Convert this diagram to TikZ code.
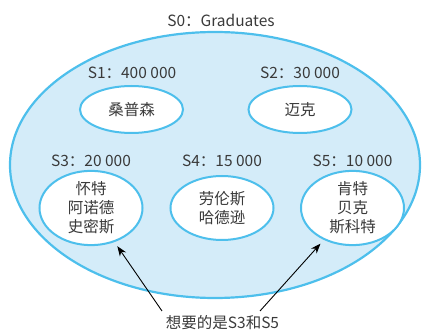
\documentclass[tikz,border=0pt]{standalone}
\usepackage{fontspec}
\setmainfont{Noto Sans CJK SC}
\usetikzlibrary{shapes.geometric,arrows.meta}
\definecolor{ebg}{HTML}{D4ECF9}
\definecolor{eline}{HTML}{4DBFEC}
\definecolor{txt}{HTML}{3A3A3A}
\tikzset{
  x=1pt,y=-1pt,
  bigell/.style={ellipse,draw=eline,fill=ebg,line width=2.2pt,minimum width=410pt,minimum height=266pt,inner sep=0pt},
  smallell/.style={ellipse,draw=eline,fill=white,line width=2pt,minimum width=103pt,inner sep=0pt,text=txt,font=\fontsize{15.5}{19}\selectfont,align=center},
  lbl/.style={text=txt,font=\fontsize{15.5}{17}\selectfont,inner sep=0pt},
  pointer/.style={-{Stealth[length=10pt,width=7.5pt]},line width=0.9pt,black,shorten >=5pt}
}
\begin{document}
\begin{tikzpicture}
\useasboundingbox (0,0) rectangle (429,331);
\node[bigell] (s0) at (215,165) {};
\node[lbl] (l0) at (221,20) {S0：Graduates};
\node[lbl] (l1) at (132,73) {S1：400 000};
\node[lbl] (l2) at (300,73) {S2：30 000};
\node[lbl] (l3) at (91,161) {S3：20 000};
\node[lbl] (l4) at (222,161) {S4：15 000};
\node[lbl] (l5) at (352.5,161) {S5：10 000};
\node[smallell,minimum height=47pt] (s1) at (131.5,109.5) {桑普森};
\node[smallell,minimum height=47pt] (s2) at (300,109.5) {迈克};
\node[smallell,minimum height=64pt] (s3) at (91,208) {怀特\\阿诺德\\史密斯};
\node[smallell,minimum height=64pt] (s4) at (222,208) {劳伦斯\\哈德逊};
\node[smallell,minimum height=64pt] (s5) at (352.5,208) {肯特\\贝克\\斯科特};
\node[lbl] (ann) at (222.5,323) {想要的是S3和S5};
\coordinate (a1) at (162,311);
\coordinate (a2) at (260,311);
\draw[pointer] (a1) -- (s3);
\draw[pointer] (a2) -- (s5);
\end{tikzpicture}
\end{document}
